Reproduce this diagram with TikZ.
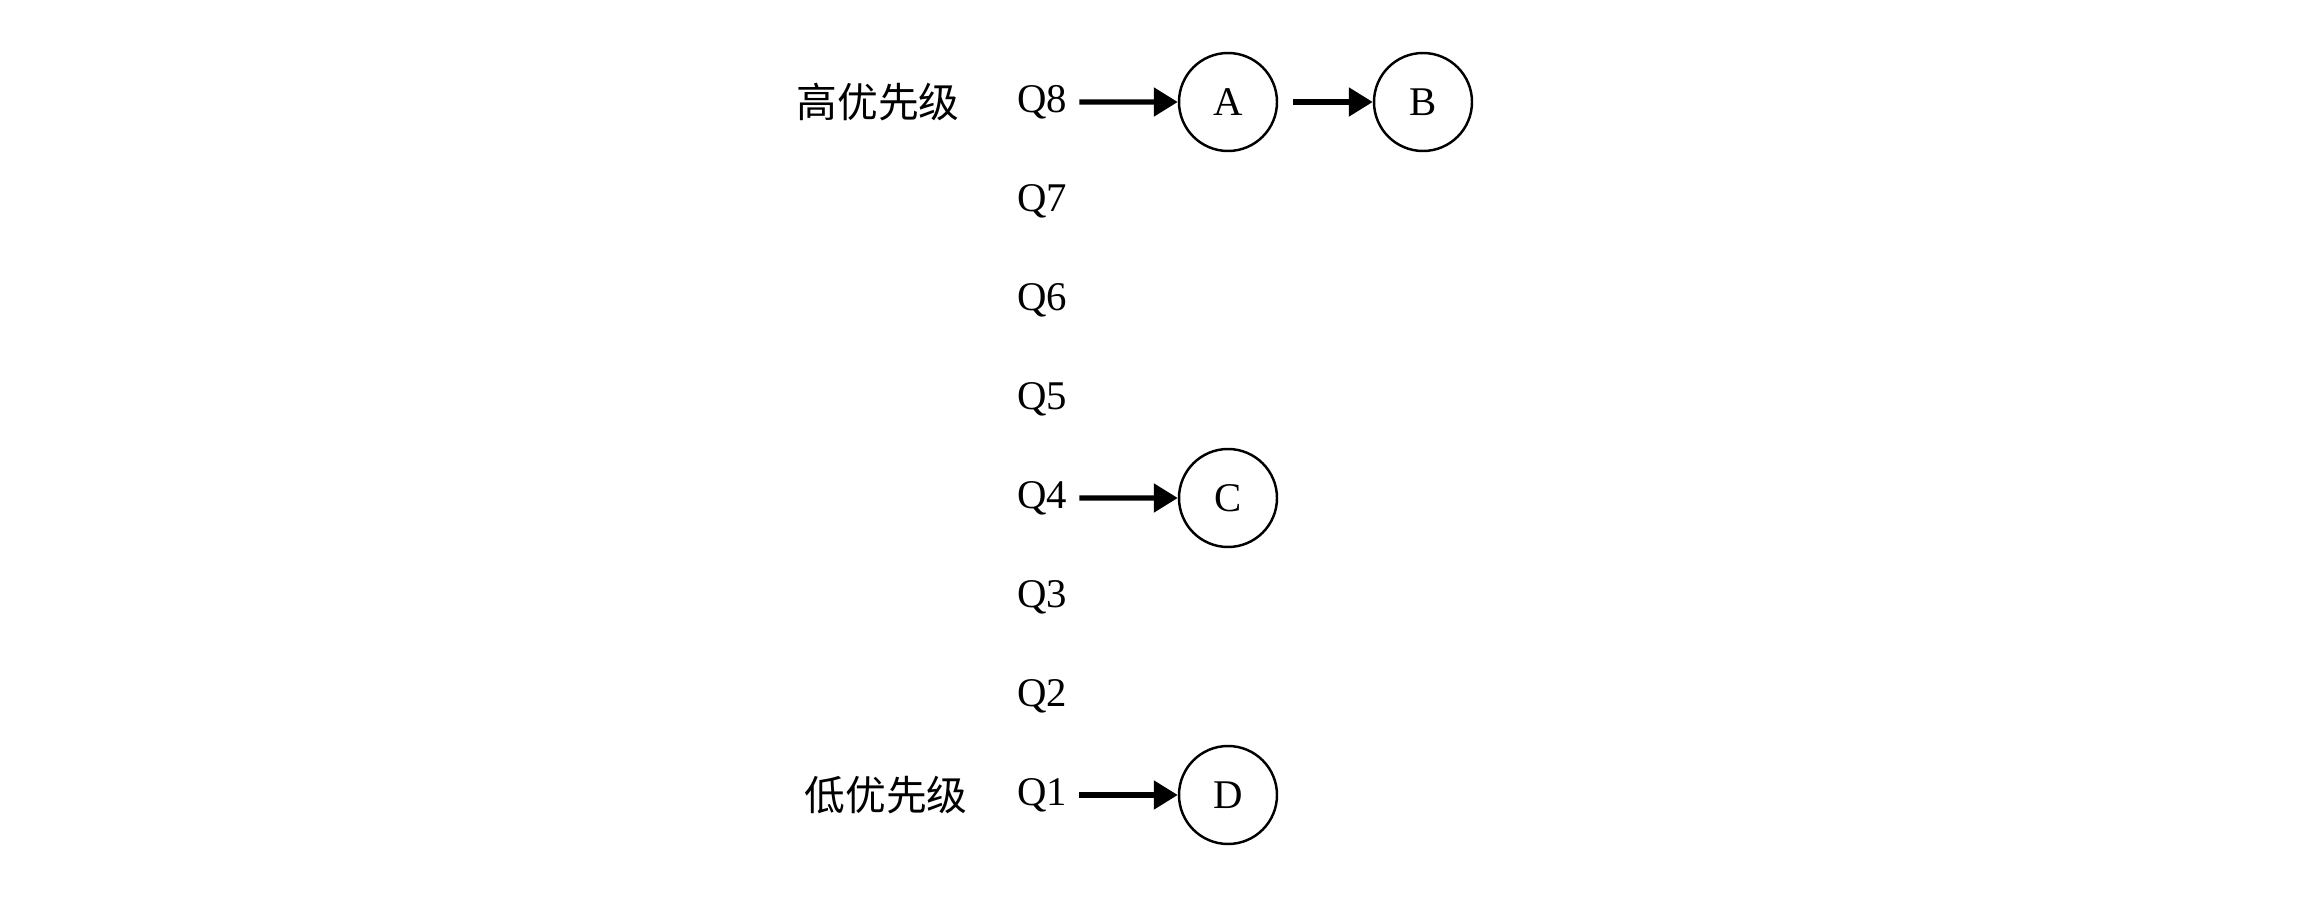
\documentclass[tikz,border=0pt]{standalone}
\usepackage{fontspec}
\setmainfont{Liberation Serif}
\newfontfamily\cjk{Noto Sans CJK SC}
\usepackage{tikz}
\usetikzlibrary{positioning}
\usetikzlibrary{arrows.meta}

\begin{document}
\begin{tikzpicture}[font=\fontsize{11.6}{14}\selectfont]
    \tikzset{
    task/.style={
        draw,
        circle,
        line width=0.7pt,
        minimum size=0.98cm,
        inner sep=0pt
    },
    link/.style={
        -{Triangle[length=0.24cm,width=0.28cm]},
        line width=1.5pt
    }
    }
        \useasboundingbox (0,0) rectangle (22.97,9.23);

        \foreach \i in {1,...,8}
            \node (q\i) at (10.42,{1.28+(\i-1)*0.99}) {Q\i};

        \node (high) at (8.78,8.21) {\cjk 高优先级};
        \node (low) at (8.86,1.28) {\cjk 低优先级};

        \node (A)[task] at (12.28,8.21) {A};
        \node (B)[task] at (14.23,8.21) {B};
        \node (C)[task] at (12.28,4.25) {C};
        \node (D)[task] at (12.28,1.28) {D};

        \draw[link] (q8) -- (A);
        \draw[link, shorten <=0.15cm] (A) -- (B);
        \draw[link] (q4) -- (C);
        \draw[link] (q1) -- (D);

    \end{tikzpicture}
\end{document}
